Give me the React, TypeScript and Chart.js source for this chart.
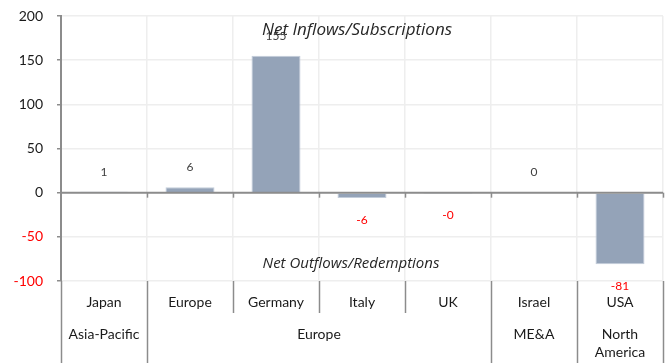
import React, { useEffect, useRef } from "react";
import { Chart, registerables } from "chart.js";

Chart.register(...registerables);

const categories = ["Japan", "Europe", "Germany", "Italy", "UK", "Israel", "USA"];
const groups = [
  { label: ["Asia-Pacific"], start: 0, end: 0 },
  { label: ["Europe"], start: 1, end: 4 },
  { label: ["ME&A"], start: 5, end: 5 },
  { label: ["North", "America"], start: 6, end: 6 },
];
const values = [1, 6, 155, -6, -0.3, 0.2, -81];
const valueLabels = ["1", "6", "155", "-6", "-0", "0", "-81"];
const yTicks = [-100, -50, 0, 50, 100, 150, 200];
const topNote = "Net Inflows/Subscriptions";
const bottomNote = "Net Outflows/Redemptions";

const FONT = "Lato, 'Open Sans', sans-serif";
const NOTE_FONT = "'Open Sans', Lato, sans-serif";
const AXIS_GRAY = "#8c8c8c";

const overlay = {
  id: "overlay",
  afterDatasetsDraw(chart: any) {
    const { ctx, chartArea } = chart;
    const x = chart.scales.x;
    const y = chart.scales.y;
    const n = categories.length;
    const half = (x.getPixelForValue(1) - x.getPixelForValue(0)) / 2;
    const bound = (i: number) => x.getPixelForValue(i) - half;
    const y0 = y.getPixelForValue(0);
    const bottom = chartArea.bottom;
    const H = chart.height;

    ctx.save();
    // zero line
    ctx.strokeStyle = AXIS_GRAY;
    ctx.lineWidth = 2;
    ctx.beginPath();
    ctx.moveTo(chartArea.left, y0);
    ctx.lineTo(chartArea.right, y0);
    ctx.stroke();
    ctx.lineWidth = 1.5;
    for (let i = 1; i <= n; i++) {
      const bx = Math.round(bound(i)) + 0.5;
      ctx.beginPath();
      ctx.moveTo(bx, y0);
      ctx.lineTo(bx, y0 + 5);
      ctx.stroke();
    }

    // data labels
    ctx.font = "12px " + FONT;
    ctx.textAlign = "center";
    ctx.textBaseline = "middle";
    values.forEach((v, i) => {
      const px = x.getPixelForValue(i);
      const py = y.getPixelForValue(v);
      const neg = valueLabels[i].startsWith("-");
      ctx.fillStyle = neg ? "#ff0000" : "#404040";
      ctx.fillText(valueLabels[i], px, neg ? py + 22 : py - 20);
    });

    // notes
    ctx.fillStyle = "#262626";
    ctx.font = "italic 17px " + NOTE_FONT;
    ctx.fillText(topNote, chartArea.left + 296, chartArea.top + 14);
    ctx.font = "italic 15px " + NOTE_FONT;
    ctx.fillText(bottomNote, chartArea.left + 290, y.getPixelForValue(-80));

    // category table
    const row1 = bottom + 32;
    ctx.strokeStyle = AXIS_GRAY;
    ctx.lineWidth = 1.5;
    for (let i = 0; i <= n; i++) {
      const bx = Math.round(bound(i)) + 0.5;
      const isGroupEdge = i === 0 || i === n || groups.some((g) => g.start === i);
      ctx.beginPath();
      ctx.moveTo(bx, bottom);
      ctx.lineTo(bx, isGroupEdge ? H : row1);
      ctx.stroke();
    }
    ctx.font = "14px " + FONT;
    ctx.fillStyle = "#1a1a1a";
    categories.forEach((c, i) => {
      ctx.fillText(c, x.getPixelForValue(i), bottom + 21);
    });
    groups.forEach((g) => {
      const cx = (bound(g.start) + bound(g.end + 1)) / 2;
      g.label.forEach((t, k) => {
        ctx.fillText(t, cx, row1 + 21 + k * 18);
      });
    });
    ctx.restore();
  },
};

export default function App() {
  const ref = useRef<HTMLCanvasElement>(null);
  useEffect(() => {
    if (!ref.current) return;
    const chart = new Chart(ref.current, {
      type: "bar",
      data: {
        labels: categories,
        datasets: [
          {
            data: values,
            backgroundColor: "#94a3b8",
            borderColor: "#c3cdda",
            borderWidth: 1,
            barPercentage: 0.57,
            categoryPercentage: 1,
          },
        ],
      },
      options: {
        animation: false,
        responsive: false,
        layout: { padding: { left: 0, top: 16, right: 4, bottom: 82 } },
        plugins: { legend: { display: false }, tooltip: { enabled: false } },
        scales: {
          x: {
            ticks: { display: false },
            border: { display: false },
            grid: { offset: true, color: "#eeeeee", lineWidth: 1.5, drawTicks: false },
          },
          y: {
            min: -100,
            max: 200,
            afterFit: (s: any) => {
              s.width = 61;
              s.paddingTop = 0;
              s.paddingBottom = 0;
            },
            afterBuildTicks: (s: any) => {
              s.ticks = yTicks.map((v) => ({ value: v }));
            },
            border: { color: AXIS_GRAY, width: 2 },
            grid: { color: "#eeeeee", lineWidth: 1.5, tickColor: AXIS_GRAY, tickLength: 4 },
            ticks: {
              padding: 14,
              font: { family: FONT, size: 14 },
              color: (c: any) => (c.tick && c.tick.value < 0 ? "#ff0000" : "#1a1a1a"),
            },
          },
        },
      },
      plugins: [overlay],
    });
    return () => chart.destroy();
  }, []);
  return (
    <div style={{ position: "absolute", left: 0, top: 0, width: 667, height: 363, background: "#fff" }}>
      <canvas ref={ref} width={667} height={363} style={{ width: 667, height: 363 }} />
    </div>
  );
}
